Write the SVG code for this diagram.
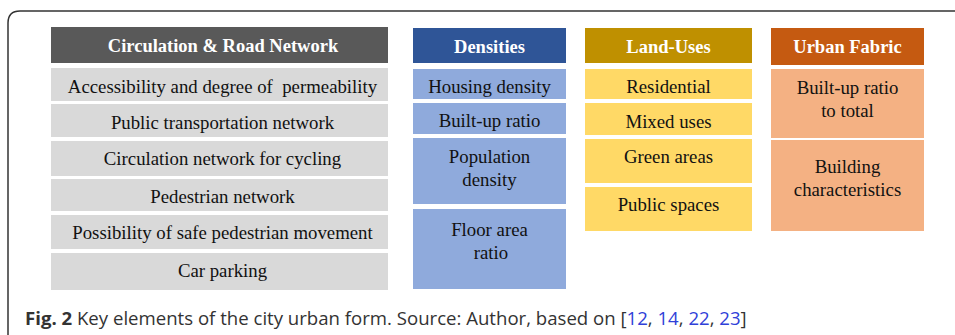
<svg xmlns="http://www.w3.org/2000/svg" width="955" height="335" viewBox="0 0 955 335">
<style>
.t{font-family:"Liberation Serif","Times New Roman",serif;font-size:18.8px;fill:#111;text-anchor:middle;white-space:pre}
.h{font-family:"Liberation Serif","Times New Roman",serif;font-size:18.5px;font-weight:bold;fill:#fff;text-anchor:middle}
.cap{font-family:"Open Sans","Noto Sans",sans-serif;font-size:18.6px;fill:#333}
.ref{fill:#3040d8}
.frame{fill:none;stroke:#333;stroke-width:1.5}
.g1{fill:#d9d9d9}.g1h{fill:#595959}
.g2{fill:#8faadc}.g2h{fill:#2f5597}
.g3{fill:#ffd966}.g3h{fill:#bf9000}
.g4{fill:#f4b183}.g4h{fill:#c55a11}
</style>
<rect width="955" height="335" fill="#fff"/>
<path class="frame" d="M8,335 L8,23 Q8,11 20,11 L955,11"/>
<g id="circulation">
<rect class="g1h" x="51" y="27" width="337" height="36"/>
<text class="h" x="223" y="52">Circulation &amp; Road Network</text>
<rect class="g1" x="51" y="68" width="337" height="33"/>
<text class="t" x="222.5" y="93" xml:space="preserve">Accessibility and degree of  permeability</text>
<rect class="g1" x="51" y="104" width="337" height="33"/>
<text class="t" x="222.5" y="129">Public transportation network</text>
<rect class="g1" x="51" y="141" width="337" height="35"/>
<text class="t" x="222.5" y="165">Circulation network for cycling</text>
<rect class="g1" x="51" y="179" width="337" height="32"/>
<text class="t" x="222.5" y="203">Pedestrian network</text>
<rect class="g1" x="51" y="215" width="337" height="34"/>
<text class="t" x="222.5" y="239">Possibility of safe pedestrian movement</text>
<rect class="g1" x="51" y="253" width="337" height="37"/>
<text class="t" x="222.5" y="277">Car parking</text>
</g>
<g id="densities">
<rect class="g2h" x="413" y="28" width="153" height="35"/>
<text class="h" x="489.5" y="53">Densities</text>
<rect class="g2" x="413" y="69" width="153" height="30"/>
<text class="t" x="489.5" y="93">Housing density</text>
<rect class="g2" x="413" y="103" width="153" height="31"/>
<text class="t" x="489.5" y="127">Built-up ratio</text>
<rect class="g2" x="413" y="138" width="153" height="66"/>
<text class="t" x="489.5" y="163">Population</text>
<text class="t" x="489.5" y="186">density</text>
<rect class="g2" x="413" y="209" width="153" height="80"/>
<text class="t" x="489.5" y="236">Floor area</text>
<text class="t" x="491" y="259">ratio</text>
</g>
<g id="landuses">
<rect class="g3h" x="585" y="28" width="167" height="35"/>
<text class="h" x="668.5" y="53">Land-Uses</text>
<rect class="g3" x="585" y="69" width="167" height="30"/>
<text class="t" x="668.5" y="93">Residential</text>
<rect class="g3" x="585" y="103" width="167" height="32"/>
<text class="t" x="668.5" y="128">Mixed uses</text>
<rect class="g3" x="585" y="139" width="167" height="44"/>
<text class="t" x="668.5" y="163">Green areas</text>
<rect class="g3" x="585" y="187" width="167" height="44"/>
<text class="t" x="668.5" y="211">Public spaces</text>
</g>
<g id="urbanfabric">
<rect class="g4h" x="771" y="28" width="153" height="37"/>
<text class="h" x="847.5" y="53">Urban Fabric</text>
<rect class="g4" x="771" y="69" width="153" height="69"/>
<text class="t" x="847.5" y="94">Built-up ratio</text>
<text class="t" x="847.5" y="117">to total</text>
<rect class="g4" x="771" y="140" width="153" height="91"/>
<text class="t" x="847.5" y="173">Building</text>
<text class="t" x="847.5" y="196">characteristics</text>
</g>
<g id="connectors"></g>
<text class="cap" x="25" y="325"><tspan font-weight="bold">Fig. 2</tspan> Key elements of the city urban form. Source: Author, based on [<tspan class="ref">12</tspan>, <tspan class="ref">14</tspan>, <tspan class="ref">22</tspan>, <tspan class="ref">23</tspan>]</text>
</svg>
